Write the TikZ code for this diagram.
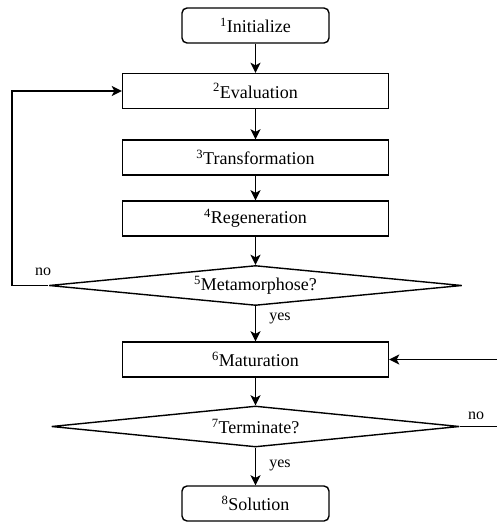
\documentclass[tikz,border=0pt]{standalone}
\usepackage{fontspec}
\setmainfont{Liberation Serif}
\usetikzlibrary{shapes.geometric,arrows.meta}
\begin{document}
\begin{tikzpicture}[x=1pt,y=-1pt,
  base/.style={draw,line width=1.4pt,inner sep=0pt,font=\fontsize{18}{20}\selectfont},
  term/.style={base,rectangle,rounded corners=5pt,minimum width=147pt,minimum height=35pt},
  proc/.style={base,rectangle,minimum width=266pt,minimum height=35pt},
  dec/.style={base,diamond,aspect=10,minimum height=40pt},
  arr/.style={line width=1.9pt,-{Stealth[length=10pt,width=10pt,inset=2.5pt]}},
  lbl/.style={font=\fontsize{16}{18}\selectfont,inner sep=0pt}]
\useasboundingbox (0,0) rectangle (496,522);
\node[term] (init) at (255.5,25.5) {\textsuperscript{1}Initialize};
\node[proc] (eval) at (255.5,91) {\textsuperscript{2}Evaluation};
\node[proc] (trans) at (255.5,157.5) {\textsuperscript{3}Transformation};
\node[proc] (regen) at (255.5,218.5) {\textsuperscript{4}Regeneration};
\node[dec,minimum width=413pt] (meta) at (255.5,285.5) {\textsuperscript{5}Metamorphose?};
\node[proc] (mat) at (255.5,359.5) {\textsuperscript{6}Maturation};
\node[dec,minimum width=408pt,minimum height=41pt] (termq) at (255.5,426.5) {\textsuperscript{7}Terminate?};
\node[term] (sol) at (255.5,503.5) {\textsuperscript{8}Solution};
\coordinate (lt) at (12,91);
\coordinate (lb) at (12,285.5);
\coordinate (rt) at (510,359.5);
\coordinate (rb) at (510,426.5);
\draw[arr] (init) -- (eval);
\draw[arr] (eval) -- (trans);
\draw[arr] (trans) -- (regen);
\draw[arr] (regen) -- (meta.north);
\draw[arr] (meta.south) -- (mat.north);
\draw[arr] (mat) -- (termq.north);
\draw[arr] (termq.south) -- (sol.north);
\draw[arr] (meta.west) -- (lb) -- (lt) -- (eval.west);
\draw[arr] (termq.east) -- (rb) -- (rt) -- (mat.east);
\node[lbl] (y1) at (280,318) {yes};
\node[lbl] (y2) at (280,465) {yes};
\node[lbl] (n1) at (43,272) {no};
\node[lbl] (n2) at (476,416) {no};
\end{tikzpicture}
\end{document}
